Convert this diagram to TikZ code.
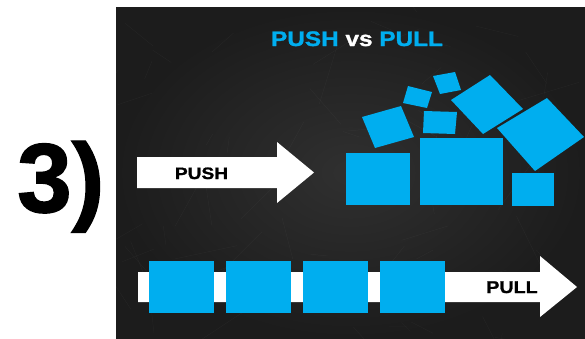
\documentclass[tikz,border=0pt]{standalone}
\usepackage{fontspec}
\setmainfont{Liberation Sans}
\newfontfamily\widebold[FakeStretch=1.16,FakeBold=1.2]{Liberation Sans Bold}
\newfontfamily\plainbold[FakeBold=1.5]{Liberation Sans Bold}
\definecolor{pullblue}{RGB}{0,174,239}
\definecolor{boardin}{RGB}{48,48,48}
\definecolor{boardout}{RGB}{28,28,28}
\tikzset{
  block/.style={fill=pullblue},
  whitearrow/.style={fill=white},
  label/.style={inner sep=0pt, anchor=base},
}
\begin{document}
\begin{tikzpicture}[x=1pt,y=-1pt]
\useasboundingbox (0,0) rectangle (585,338);
\fill[white] (0,0) rectangle (585,338);

% chalkboard panel with faint chalk scratches
\shade[inner color=boardin, outer color=boardout] (116,7) rectangle (585,338);
\pgfmathsetseed{7}
\begin{scope}
  \clip (116,7) rectangle (585,338);
  \foreach \i in {1,...,70} {
    \pgfmathsetmacro\xa{116+rnd*469}
    \pgfmathsetmacro\ya{7+rnd*331}
    \pgfmathsetmacro\ang{rnd*360}
    \pgfmathsetmacro\len{10+rnd*60}
    \draw[white, opacity=0.03, line width=0.5pt] (\xa,\ya) -- ++(\ang:\len);
  }
\end{scope}

% item number
\node[label, anchor=base west, font=\plainbold\fontsize{98}{98}\selectfont] (num) at (17,212) {3)};

% title
\node[label, font=\widebold\fontsize{21}{21}\selectfont] (title) at (357,46)
  {\textcolor{pullblue}{PUSH} \textcolor{white}{vs} \textcolor{pullblue}{PULL}};

% push arrow
\fill[whitearrow] (137,157) -- (277,157) -- (277,142) -- (314,172.5)
  -- (277,203) -- (277,188) -- (137,188) -- cycle;
\node[label, font=\widebold\fontsize{16.5}{16.5}\selectfont] (pushlabel) at (201.5,179) {PUSH};

% heap of pushed blocks
\fill[block] (346,153) rectangle (410,205);
\fill[block] (420,138) rectangle (503,205);
\fill[block] (512,173) rectangle (554,206);
\fill[block] (362,117) -- (401,106) -- (414,137) -- (375,148) -- cycle;
\fill[block] (424,111) -- (457,112) -- (455,134) -- (423,133) -- cycle;
\fill[block] (408,86) -- (432,92) -- (427,108) -- (403,103) -- cycle;
\fill[block] (433,76) -- (455,72) -- (461,90) -- (440,94) -- cycle;
\fill[block] (451,100) -- (490,75) -- (523,109) -- (483,134) -- cycle;
\fill[block] (497,128) -- (547,98) -- (584,137) -- (535,171) -- cycle;

% pull arrow carrying a row of blocks
\fill[whitearrow] (138,272) -- (540,272) -- (540,256) -- (577,287)
  -- (540,317) -- (540,302) -- (138,302) -- cycle;
\foreach \x in {149,226,303,380} {
  \fill[block] (\x,261) rectangle ++(64.5,52);
}
\node[label, font=\widebold\fontsize{17}{17}\selectfont] (pulllabel) at (512,293) {PULL};
\end{tikzpicture}
\end{document}
